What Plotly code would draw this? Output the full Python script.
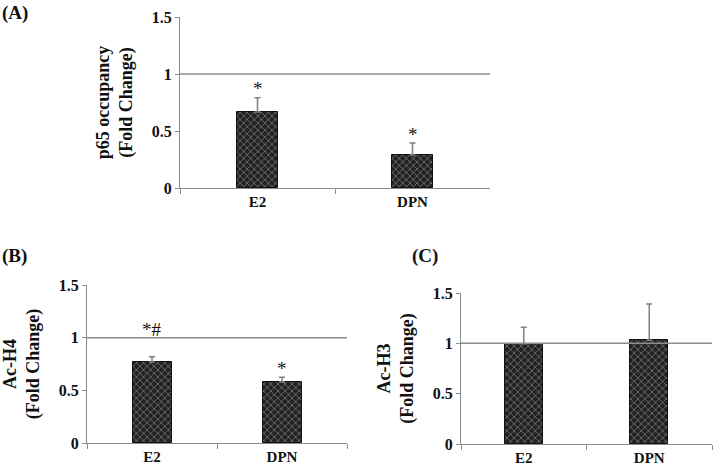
import plotly.graph_objects as go

categories = ["E2", "DPN"]

# Panel A: p65 occupancy
a_values = [0.667, 0.29]
a_errors = [0.125, 0.105]
a_labels = ["*", "*"]
a_label_y = [0.87, 0.47]

# Panel B: Ac-H4
b_values = [0.77, 0.58]
b_errors = [0.05, 0.045]
b_labels = ["*#", "*"]
b_label_y = [1.08, 0.71]

# Panel C: Ac-H3
c_values = [0.995, 1.03]
c_errors = [0.165, 0.36]
c_labels = ["", ""]
c_label_y = [0, 0]

yticks = [0, 0.5, 1, 1.5]
ytick_text = ["0", "0.5", "1", "1.5"]

FONT = "Liberation Serif"
AXC = "#8c8c8c"

fig = go.Figure()

panels = [
    ("x", "y", a_values, a_errors, a_labels, a_label_y, 0.265,
     "p65 occupancy<br>(Fold Change)", [180/716, 490/716], [(471-188)/471, (471-17)/471]),
    ("x2", "y2", b_values, b_errors, b_labels, b_label_y, 0.30,
     "Ac-H4<br>(Fold Change)", [87/716, 347/716], [(471-443)/471, (471-285)/471]),
    ("x3", "y3", c_values, c_errors, c_labels, c_label_y, 0.30,
     "Ac-H3<br>(Fold Change)", [461/716, 712/716], [(471-444)/471, (471-293)/471]),
]

for i, (xa, ya, vals, errs, labs, laby, bw, ytitle, xdom, ydom) in enumerate(panels):
    fig.add_trace(go.Bar(
        x=categories, y=vals, xaxis=xa, yaxis=ya, width=bw,
        marker=dict(color="#222", line=dict(color="#111", width=1),
                    pattern=dict(shape="x", fgcolor="#c8c8c8", bgcolor="#222",
                                 size=5, solidity=0.3)),
        error_y=dict(type="data", array=errs, arrayminus=[0, 0], symmetric=False,
                     color="#808080", thickness=1.5, width=3),
        showlegend=False, hoverinfo="skip",
    ))
    sfx = "" if i == 0 else str(i + 1)
    fig.update_layout(**{
        "xaxis" + sfx: dict(domain=xdom, anchor=ya, range=[-0.5, 1.5], type="category",
                            automargin=False,
                            showline=True, linecolor=AXC, linewidth=1.2,
                            ticks="outside", tickson="boundaries", ticklen=5, tickcolor=AXC,
                            showgrid=False, zeroline=False,
                            tickprefix="<b>", ticksuffix="</b>",
                            tickfont=dict(family=FONT, size=15, color="#111")),
        "yaxis" + sfx: dict(domain=ydom, anchor=xa, range=[0, 1.5], automargin=False,
                            tickvals=yticks, ticktext=["<b>" + t + "</b>" for t in ytick_text],
                            showline=True, linecolor=AXC, linewidth=1.2,
                            ticks="outside", ticklen=4, tickcolor=AXC,
                            showgrid=False, zeroline=False,
                            tickfont=dict(family=FONT, size=16, color="#111"),
                            title=dict(text="<b>" + ytitle + "</b>", standoff=14,
                                       font=dict(family=FONT, size=18, color="#111"))),
    })
    fig.add_shape(type="line", xref=xa + " domain", yref=ya, x0=0, x1=1, y0=1, y1=1,
                  line=dict(color="#8c8c8c", width=1.5), layer="above")
    for c, t, yy in zip(categories, labs, laby):
        if t:
            fig.add_annotation(x=c, y=yy, xref=xa, yref=ya, text=t, showarrow=False,
                               font=dict(family=FONT, size=19, color="#111"))

for txt, x, y in [("(A)", 0.0, 1.0), ("(B)", 0.0, 1 - 243/471), ("(C)", 410/716, 1 - 243/471)]:
    fig.add_annotation(x=x, y=y, xref="paper", yref="paper", xanchor="left", yanchor="top",
                       text="<b>" + txt + "</b>", showarrow=False,
                       font=dict(family=FONT, size=19, color="#111"))

fig.update_layout(width=716, height=471, margin=dict(l=0, r=0, t=0, b=0),
                  plot_bgcolor="white", paper_bgcolor="white",
                  font=dict(family=FONT, color="#111"), bargap=0)

fig.write_html("out.html", config={"displayModeBar": False},
               post_script="document.body.style.margin='0';document.body.style.overflow='hidden';")
